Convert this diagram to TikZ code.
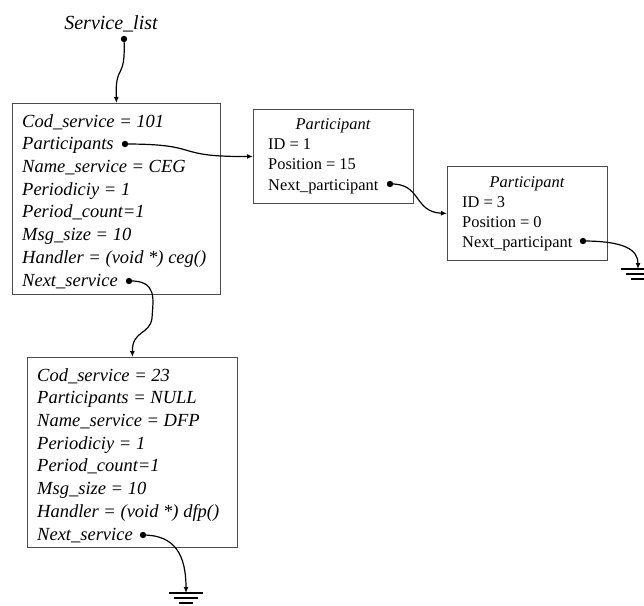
\documentclass[tikz,border=0pt]{standalone}
\usepackage{fontspec}
\setmainfont{Liberation Serif}
\usetikzlibrary{arrows.meta}
\tikzset{
  box/.style={draw=black!70, line width=0.9pt, inner sep=0pt},
  svc/.style={anchor=base west, inner sep=0pt, font=\fontsize{18.5}{22}\selectfont\itshape},
  part/.style={anchor=base west, inner sep=0pt, font=\fontsize{16.4}{20}\selectfont},
  ptitle/.style={anchor=base, inner sep=0pt, font=\fontsize{16.4}{20}\selectfont\itshape},
  conn/.style={line width=1.2pt, -{Latex[length=6pt,width=5pt]}},
  dot/.style={fill=black},
}
\newcommand{\groundsym}[1]{%
  \draw[line width=1.6pt] ([xshift=-17pt]#1) -- ([xshift=17pt]#1);
  \draw[line width=1.6pt] ([xshift=-12pt,yshift=-5pt]#1) -- ([xshift=12pt,yshift=-5pt]#1);
  \draw[line width=1.6pt] ([xshift=-7pt,yshift=-10pt]#1) -- ([xshift=7pt,yshift=-10pt]#1);
}
\begin{document}
\begin{tikzpicture}[x=1pt,y=-1pt]
\useasboundingbox (0,0) rectangle (644,605);

% title
\node[anchor=base, inner sep=0pt, font=\fontsize{20}{24}\selectfont\itshape] (title) at (111,29) {Service\_list};

% service box 1
\node[box, minimum width=208pt, minimum height=191pt, anchor=north west] (s1) at (12,103) {};
\node[svc] (s1a) at (22,127) {Cod\_service = 101};
\node[svc] (s1b) at (22,149.7) {Participants};
\node[svc] (s1c) at (22,172.4) {Name\_service = CEG};
\node[svc] (s1d) at (22,195.1) {Periodiciy = 1};
\node[svc] (s1e) at (22,217.8) {Period\_count=1};
\node[svc] (s1f) at (22,240.5) {Msg\_size = 10};
\node[svc] (s1g) at (22,263.2) {Handler = (void *) ceg()};
\node[svc] (s1h) at (22,286) {Next\_service};

% service box 2
\node[box, minimum width=210pt, minimum height=190pt, anchor=north west] (s2) at (27,357) {};
\node[svc] (s2a) at (37,381) {Cod\_service = 23};
\node[svc] (s2b) at (37,403.7) {Participants = NULL};
\node[svc] (s2c) at (37,426.4) {Name\_service = DFP};
\node[svc] (s2d) at (37,449.1) {Periodiciy = 1};
\node[svc] (s2e) at (37,471.8) {Period\_count=1};
\node[svc] (s2f) at (37,494.5) {Msg\_size = 10};
\node[svc] (s2g) at (37,517.2) {Handler = (void *) dfp()};
\node[svc] (s2h) at (37,540) {Next\_service};

% participant 1
\node[box, minimum width=160pt, minimum height=94pt, anchor=north west] (p1) at (253,109) {};
\node[ptitle] (p1t) at (333,129) {Participant};
\node[part] (p1a) at (268,149.5) {ID = 1};
\node[part] (p1b) at (268,169.5) {Position = 15};
\node[part] (p1c) at (268,190) {Next\_participant};

% participant 2
\node[box, minimum width=160pt, minimum height=94pt, anchor=north west] (p2) at (447,166) {};
\node[ptitle] (p2t) at (527,187) {Participant};
\node[part] (p2a) at (462,207) {ID = 3};
\node[part] (p2b) at (462,227) {Position = 0};
\node[part] (p2c) at (462,247) {Next\_participant};

% dots
\coordinate (d0) at (124,39);
\coordinate (d1) at (125,144);
\coordinate (d2) at (129,281);
\coordinate (d3) at (390,184);
\coordinate (d4) at (583,241);
\coordinate (d5) at (143,535);
\coordinate (g1) at (638,269);
\coordinate (g2) at (186,593);
\foreach \d in {d0,d1,d2,d3,d4,d5} \fill[dot] (\d) circle (3.2pt);

% connectors
\draw[conn] (d0) .. controls (126,82) and (115,62) .. (s1.north);
\draw[conn] (d1) .. controls (205,144) and (170,157) .. (p1.west);
\draw[conn] (d2) .. controls (158,280) and (153,300) .. (152,318)
                 .. controls (150,335) and (132,330) .. (s2.north);
\draw[conn] (d3) .. controls (422,183) and (413,212) .. (p2.west);
\draw[conn] (d4) .. controls (625,241) and (638,250) .. (g1);
\draw[conn] (d5) .. controls (175,535) and (186,555) .. (g2);

% grounds
\groundsym{g1}
\groundsym{g2}
\end{tikzpicture}
\end{document}
